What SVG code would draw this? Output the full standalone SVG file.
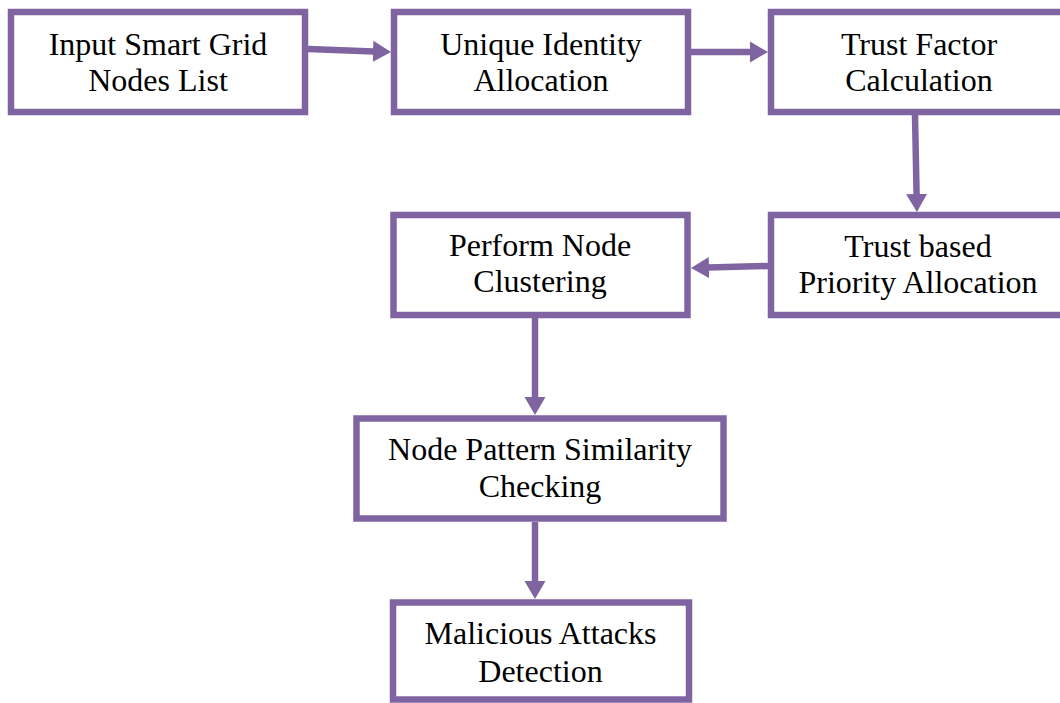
<svg xmlns="http://www.w3.org/2000/svg" width="1060" height="703" viewBox="0 0 1060 703">
  <style>
    .box { fill: #ffffff; stroke: #8064a2; stroke-width: 6.5; }
    .lbl { font-family: "Liberation Serif", "Times New Roman", serif; font-size: 32px; fill: #000000; text-anchor: middle; }
    .conn { stroke: #8064a2; stroke-width: 6.5; fill: none; marker-end: url(#head); }
  </style>
  <defs>
    <marker id="head" viewBox="0 -11 18 22" refX="1" refY="0" markerWidth="18" markerHeight="22" markerUnits="userSpaceOnUse" orient="auto">
      <path d="M0,-10.5 L18,0 L0,10.5 z" fill="#8064a2"/>
    </marker>
  </defs>
  <rect width="1060" height="703" fill="#ffffff"/>

  <g id="connectors">
    <line class="conn" x1="308" y1="49" x2="374" y2="51.4"/>
    <line class="conn" x1="691" y1="52" x2="751" y2="52"/>
    <line class="conn" x1="915" y1="115" x2="916.6" y2="195"/>
    <line class="conn" x1="768" y1="266" x2="708" y2="267.6"/>
    <line class="conn" x1="535" y1="318" x2="535" y2="398"/>
    <line class="conn" x1="535" y1="522" x2="535" y2="582"/>
  </g>

  <g id="input-nodes">
    <rect class="box" x="11" y="12" width="294" height="100"/>
    <text class="lbl" x="158" y="55">Input Smart Grid</text>
    <text class="lbl" x="158" y="91">Nodes List</text>
  </g>

  <g id="identity-allocation">
    <rect class="box" x="394" y="12" width="294" height="100"/>
    <text class="lbl" x="541" y="55">Unique Identity</text>
    <text class="lbl" x="541" y="91">Allocation</text>
  </g>

  <g id="trust-factor">
    <rect class="box" x="771" y="12" width="296" height="100"/>
    <text class="lbl" x="919" y="55">Trust Factor</text>
    <text class="lbl" x="919" y="91">Calculation</text>
  </g>

  <g id="priority-allocation">
    <rect class="box" x="771" y="215" width="296" height="100"/>
    <text class="lbl" x="918" y="257">Trust based</text>
    <text class="lbl" x="918" y="293">Priority Allocation</text>
  </g>

  <g id="node-clustering">
    <rect class="box" x="393.5" y="215" width="294" height="100"/>
    <text class="lbl" x="540" y="256">Perform Node</text>
    <text class="lbl" x="540" y="292">Clustering</text>
  </g>

  <g id="pattern-similarity">
    <rect class="box" x="356.5" y="418.5" width="367" height="100"/>
    <text class="lbl" x="540" y="460">Node Pattern Similarity</text>
    <text class="lbl" x="540" y="497">Checking</text>
  </g>

  <g id="attack-detection">
    <rect class="box" x="393" y="602.5" width="296" height="97"/>
    <text class="lbl" x="540.5" y="644">Malicious Attacks</text>
    <text class="lbl" x="540.5" y="682">Detection</text>
  </g>
</svg>
